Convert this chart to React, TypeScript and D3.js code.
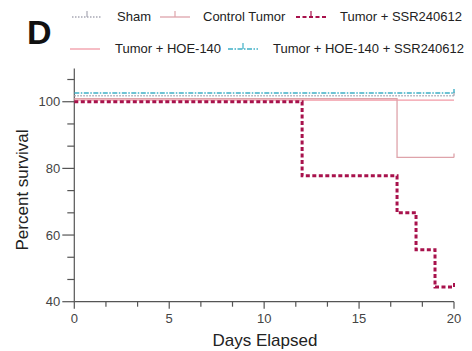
import React, { useRef, useEffect } from "react";
import * as d3 from "d3";

// survival data (days, percent)
const shamDays = [0, 20];
const shamSurv = [101.8, 101.8];
const controlDays = [0, 17, 20];
const controlSurv = [100.9, 83.3, 83.3];
const ssrDays = [0, 12, 17, 18, 19, 20];
const ssrSurv = [100, 77.8, 66.7, 55.6, 44.4, 44.4];
const hoeDays = [0, 20];
const hoeSurv = [100.5, 100.5];
const hoeSsrDays = [0, 20];
const hoeSsrSurv = [102.6, 102.6];

const yMajor = [40, 60, 80, 100];
const xMajor = [0, 5, 10, 15, 20];

export default function App() {
    const ref = useRef<SVGSVGElement>(null);

    useEffect(() => {
        const width = 472;
        const height = 351;
        const svg = d3.select(ref.current).attr("width", width).attr("height", height);
        svg.selectAll("*").remove();
        const font = "Liberation Sans, Arial, sans-serif";

        const x = d3.scaleLinear().domain([0, 20]).range([74.3, 454]);
        const y = d3.scaleLinear().domain([40, 110]).range([301.7, 68.4]);

        const axisColor = "#555";

        // y axis
        svg.append("line")
            .attr("x1", x(0)).attr("x2", x(0))
            .attr("y1", y(110)).attr("y2", y(40))
            .attr("stroke", axisColor).attr("stroke-width", 1.2);
        const yTicks = d3.range(0, 11).map(k => 40 + (k * 20) / 3);
        yTicks.forEach(t => {
            const major = yMajor.some(m => Math.abs(m - t) < 0.01);
            svg.append("line")
                .attr("x1", x(0) - (major ? 12 : 7)).attr("x2", x(0))
                .attr("y1", y(t)).attr("y2", y(t))
                .attr("stroke", axisColor).attr("stroke-width", 1.2);
        });
        yMajor.forEach(t => {
            svg.append("text")
                .attr("x", x(0) - 14).attr("y", y(t))
                .attr("dy", "0.35em").attr("text-anchor", "end")
                .attr("font-family", font).attr("font-size", 13).attr("fill", "#444")
                .text(t);
        });

        // x axis
        svg.append("line")
            .attr("x1", x(0)).attr("x2", x(20))
            .attr("y1", y(40)).attr("y2", y(40))
            .attr("stroke", axisColor).attr("stroke-width", 1.2);
        d3.range(0, 13).map(k => (k * 5) / 3).forEach(t => {
            const major = xMajor.some(m => Math.abs(m - t) < 0.01);
            svg.append("line")
                .attr("x1", x(t)).attr("x2", x(t))
                .attr("y1", y(40)).attr("y2", y(40) + (major ? 7 : 5))
                .attr("stroke", axisColor).attr("stroke-width", 1.2);
        });
        xMajor.forEach(t => {
            svg.append("text")
                .attr("x", x(t)).attr("y", 318)
                .attr("dy", "0.35em").attr("text-anchor", "middle")
                .attr("font-family", font).attr("font-size", 13).attr("fill", "#444")
                .text(t);
        });

        // axis titles
        svg.append("text")
            .attr("x", 265).attr("y", 340).attr("dy", "0.35em")
            .attr("text-anchor", "middle")
            .attr("font-family", font).attr("font-size", 17).attr("fill", "#222")
            .text("Days Elapsed");
        svg.append("text")
            .attr("transform", `translate(22,190) rotate(-90)`)
            .attr("dy", "0.35em").attr("text-anchor", "middle")
            .attr("font-family", font).attr("font-size", 17).attr("fill", "#222")
            .text("Percent survival");

        // panel letter
        svg.append("text")
            .attr("x", 27).attr("y", 44)
            .attr("font-family", font).attr("font-size", 34).attr("font-weight", "bold")
            .attr("fill", "#111")
            .text("D");

        const series = [
            { days: hoeDays, surv: hoeSurv, color: "#f29aa6", w: 1.3, dash: null, tick: false },
            { days: controlDays, surv: controlSurv, color: "#dea3aa", w: 1.3, dash: null, tick: true },
            { days: shamDays, surv: shamSurv, color: "#a8a8b4", w: 1.3, dash: "1.5,1.5", tick: true },
            { days: hoeSsrDays, surv: hoeSsrSurv, color: "#3fb0c6", w: 1.4, dash: "5,1.5,1.5,1.5", tick: true },
            { days: ssrDays, surv: ssrSurv, color: "#a8124c", w: 3, dash: "4,2.5", tick: true },
        ];

        const line = d3.line<[number, number]>()
            .x(d => x(d[0]))
            .y(d => y(d[1]))
            .curve(d3.curveStepAfter);

        series.forEach(s => {
            const pts = s.days.map((d, i) => [d, s.surv[i]] as [number, number]);
            svg.append("path")
                .attr("d", line(pts))
                .attr("fill", "none")
                .attr("stroke", s.color)
                .attr("stroke-width", s.w)
                .attr("stroke-dasharray", s.dash);
            if (s.tick) {
                const last = pts[pts.length - 1];
                svg.append("line")
                    .attr("x1", x(last[0])).attr("x2", x(last[0]))
                    .attr("y1", y(last[1])).attr("y2", y(last[1]) - 4)
                    .attr("stroke", s.color).attr("stroke-width", Math.min(s.w, 2));
            }
        });

        // legend
        const legend = [
            { label: "Sham", s: 2, lx: 72, ty: 16, tx: 117 },
            { label: "Control Tumor", s: 1, lx: 160, ty: 16, tx: 203 },
            { label: "Tumor + SSR240612", s: 4, lx: 296, ty: 16, tx: 340 },
            { label: "Tumor + HOE-140", s: 0, lx: 70, ty: 48, tx: 115 },
            { label: "Tumor + HOE-140 + SSR240612", s: 3, lx: 228, ty: 48, tx: 273 },
        ];
        legend.forEach(l => {
            const s = series[l.s];
            svg.append("line")
                .attr("x1", l.lx).attr("x2", l.lx + 30)
                .attr("y1", l.ty + 1).attr("y2", l.ty + 1)
                .attr("stroke", s.color)
                .attr("stroke-width", s.w === 3 ? 2.2 : s.w)
                .attr("stroke-dasharray", s.dash);
            if (s.tick) {
                svg.append("line")
                    .attr("x1", l.lx + 15).attr("x2", l.lx + 15)
                    .attr("y1", l.ty + 1).attr("y2", l.ty - 5)
                    .attr("stroke", s.color).attr("stroke-width", 1.2);
            }
            svg.append("text")
                .attr("x", l.tx).attr("y", l.ty)
                .attr("dy", "0.35em")
                .attr("font-family", font).attr("font-size", 13).attr("fill", "#222")
                .text(l.label);
        });
    }, []);

    return (
        <div style={{ position: "absolute", left: 0, top: 0, background: "#fff" }}>
            <svg ref={ref}></svg>
        </div>
    );
}
